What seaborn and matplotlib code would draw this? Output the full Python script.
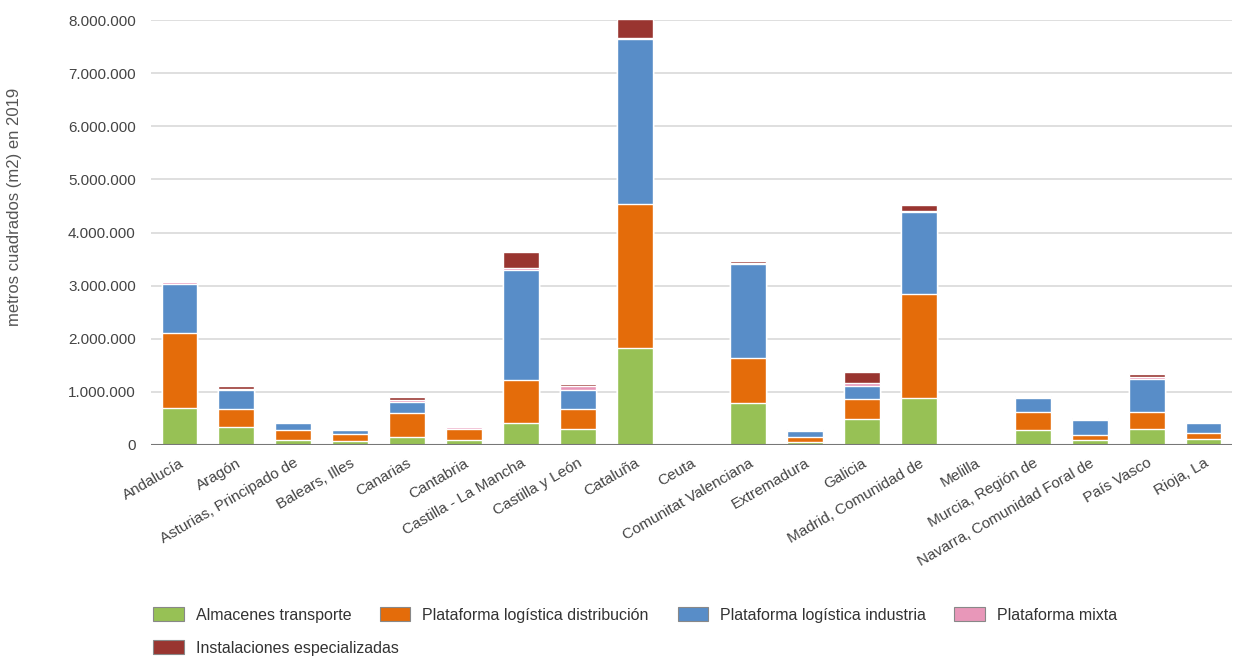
import matplotlib
matplotlib.use("Agg")
import numpy as np
import pandas as pd
import seaborn as sns
import matplotlib.pyplot as plt
from matplotlib.patches import Patch
from matplotlib.ticker import FuncFormatter

# Data (m2, 2019)
regiones = ["Andalucía", "Aragón", "Asturias, Principado de", "Balears, Illes", "Canarias",
            "Cantabria", "Castilla - La Mancha", "Castilla y León", "Cataluña", "Ceuta",
            "Comunitat Valenciana", "Extremadura", "Galicia", "Madrid, Comunidad de", "Melilla",
            "Murcia, Región de", "Navarra, Comunidad Foral de", "País Vasco", "Rioja, La"]
almacenes = [700000, 330000, 100000, 75000, 157000, 100000, 410000, 310000, 1820000, 2000,
             800000, 56000, 490000, 890000, 0, 276000, 100000, 300000, 120000]
distribucion = [1400000, 340000, 176000, 125000, 445000, 200000, 810000, 370000, 2720000, 3000,
                840000, 90000, 376000, 1960000, 0, 345000, 95000, 320000, 106000]
industria = [940000, 370000, 130000, 80000, 210000, 10000, 2080000, 360000, 3100000, 0,
             1760000, 125000, 245000, 1540000, 0, 270000, 275000, 620000, 194000]
mixta = [20000, 10000, 10000, 10000, 40000, 20000, 30000, 70000, 20000, 0,
         20000, 20000, 50000, 20000, 0, 20000, 25000, 40000, 20000]
especializadas = [30000, 70000, 0, 0, 60000, 15000, 310000, 40000, 350000, 0,
                  50000, 10000, 220000, 110000, 0, 5000, 20000, 50000, 5000]

series = ["Almacenes transporte", "Plataforma logística distribución",
          "Plataforma logística industria", "Plataforma mixta", "Instalaciones especializadas"]
colores = ["#97c155", "#e46c0a", "#588dc8", "#e897b9", "#993530"]

df = pd.DataFrame({
    "region": regiones,
    series[0]: almacenes,
    series[1]: distribucion,
    series[2]: industria,
    series[3]: mixta,
    series[4]: especializadas,
})
cum = df[series].cumsum(axis=1)

sns.set_style("white")
plt.rcParams["font.family"] = ["Liberation Sans", "DejaVu Sans"]

fig = plt.figure(figsize=(12.46, 6.58), dpi=100)
ax = fig.add_axes([151 / 1246, 1 - 445 / 658, (1232 - 151) / 1246, 425 / 658])

# stacked bars: draw cumulative totals from top layer down
for s, c in reversed(list(zip(series, colores))):
    sns.barplot(x=df["region"], y=cum[s], order=regiones, color=c, width=0.63,
                edgecolor="white", linewidth=1, saturation=1, ax=ax, zorder=3)

ax.set_ylim(0, 8000000)
ax.set_yticks(np.arange(0, 8000001, 1000000))
ax.yaxis.set_major_formatter(FuncFormatter(lambda v, p: f"{int(v):,}".replace(",", ".")))
ax.grid(axis="y", color="#d9d9d9", linewidth=1.2, zorder=0)
ax.axhline(0, color="#777777", linewidth=1.5, zorder=4)
for sp in ax.spines.values():
    sp.set_visible(False)
ax.set_xlabel("")
ax.set_ylabel("")
ax.tick_params(axis="y", length=0, pad=11, labelsize=11, labelcolor="#444444")
ax.tick_params(axis="x", length=0, pad=8, labelsize=11, labelcolor="#444444")
plt.setp(ax.get_xticklabels(), rotation=30, ha="right", rotation_mode="anchor")

fig.text(15 / 1246, 1 - 207 / 658, "metros cuadrados (m2) en 2019", rotation=90,
         ha="center", va="center", fontsize=12, color="#555555")

handles = [Patch(facecolor=c, edgecolor="#888888", linewidth=0.8) for c in colores]
leg_font = {"size": 11.5}
leg1 = fig.legend(handles[:4], series[:4], loc="center left", ncol=4,
                  bbox_to_anchor=(139 / 1246, 1 - 615 / 658), frameon=False,
                  handlelength=1.9, handleheight=0.95, handletextpad=0.75,
                  columnspacing=1.8, prop=leg_font, labelcolor="#333333")
leg2 = fig.legend(handles[4:], series[4:], loc="center left",
                  bbox_to_anchor=(139 / 1246, 1 - 648 / 658), frameon=False,
                  handlelength=1.9, handleheight=0.95, handletextpad=0.75,
                  prop=leg_font, labelcolor="#333333")

fig.savefig("out.png", dpi=100)
